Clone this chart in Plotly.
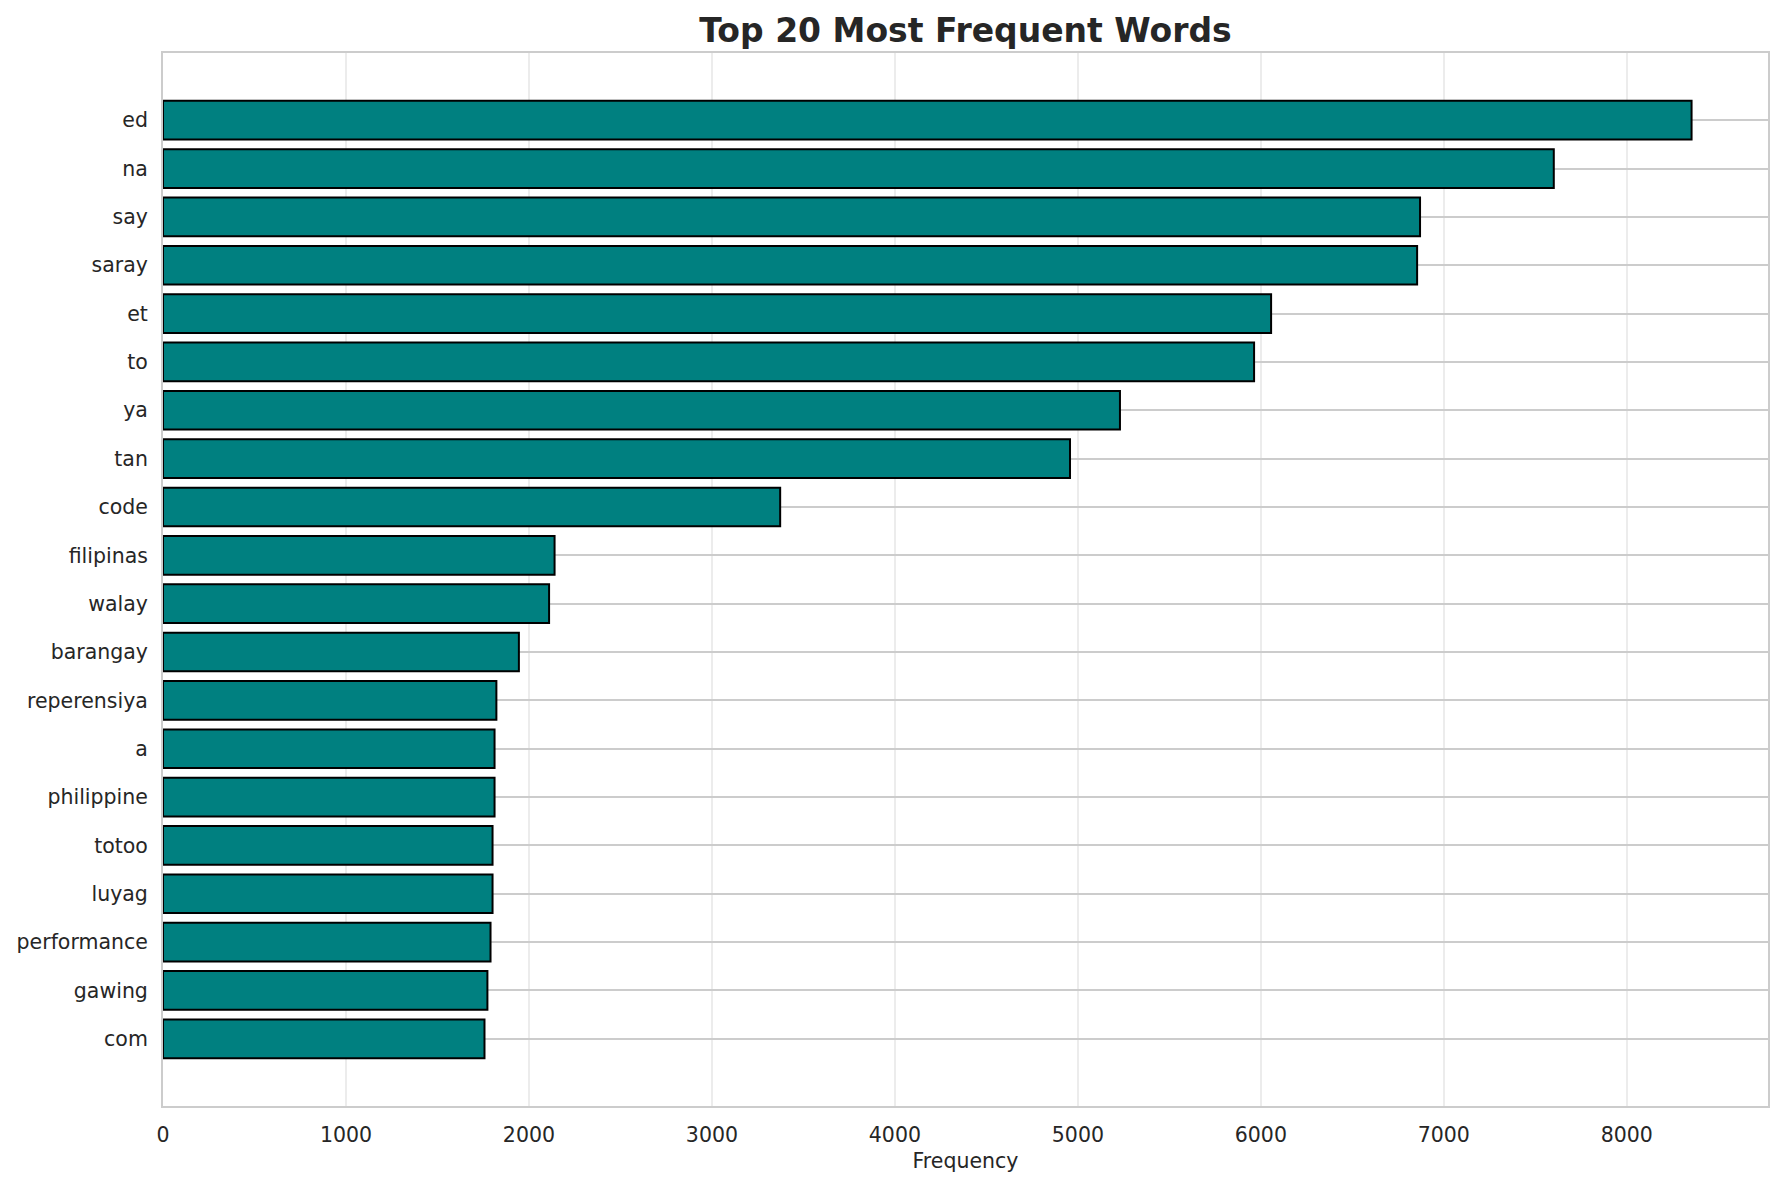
import plotly.graph_objects as go

# Data (top to bottom in reference)
words = ["ed", "na", "say", "saray", "et", "to", "ya", "tan", "code", "filipinas",
         "walay", "barangay", "reperensiya", "a", "philippine", "totoo", "luyag",
         "performance", "gawing", "com"]
freqs = [8354, 7601, 6870, 6854, 6056, 5963, 5230, 4957, 3373, 2140,
         2110, 1945, 1822, 1812, 1812, 1801, 1801, 1790, 1773, 1757]

# plot bottom-to-top order
w_plot = words[::-1]
f_plot = freqs[::-1]

FONT = "DejaVu Sans"
TXT = "#262626"

fig = go.Figure(go.Bar(
    x=f_plot, y=w_plot, orientation="h",
    width=0.8,
    marker=dict(color="#008080", line=dict(color="black", width=2)),
))

n = len(words)
W, H = 1768, 1169
fig.update_layout(
    width=W, height=H,
    margin=dict(l=155, r=8, t=45, b=71, autoexpand=False),
    paper_bgcolor="white", plot_bgcolor="white",
    font=dict(family=FONT, size=20.5, color=TXT),
    title=dict(text="<b>Top 20 Most Frequent Words</b>", x=0.5, xref="paper",
               y=1 - 22/H, yref="container", yanchor="middle", xanchor="center",
               automargin=False,
               font=dict(family=FONT, size=33, color=TXT)),
    showlegend=False,
    bargap=0.2,
)
fig.update_xaxes(
    range=[0, max(freqs) * 1.05],
    tickvals=[0, 1000, 2000, 3000, 4000, 5000, 6000, 7000, 8000],
    showgrid=True, gridcolor="#ececec", gridwidth=1.5,
    zeroline=False, automargin=False,
    showline=True, linecolor="#cccccc", linewidth=2, mirror=True,
    ticks="", ticklabelstandoff=9,
    title=dict(text="Frequency", standoff=8, font=dict(family=FONT, size=20.5, color=TXT)),
    tickfont=dict(family=FONT, size=20.5, color=TXT),
)
fig.update_yaxes(
    type="category", categoryorder="array", categoryarray=w_plot,
    range=[-1.39, n - 1 + 1.39], automargin=False,
    showgrid=True, gridcolor="#cccccc", gridwidth=1.5,
    showline=True, linecolor="#cccccc", linewidth=2, mirror=True,
    ticks="", ticklabelstandoff=9,
    tickfont=dict(family=FONT, size=20.5, color=TXT),
)

fig.write_html("out.html")
